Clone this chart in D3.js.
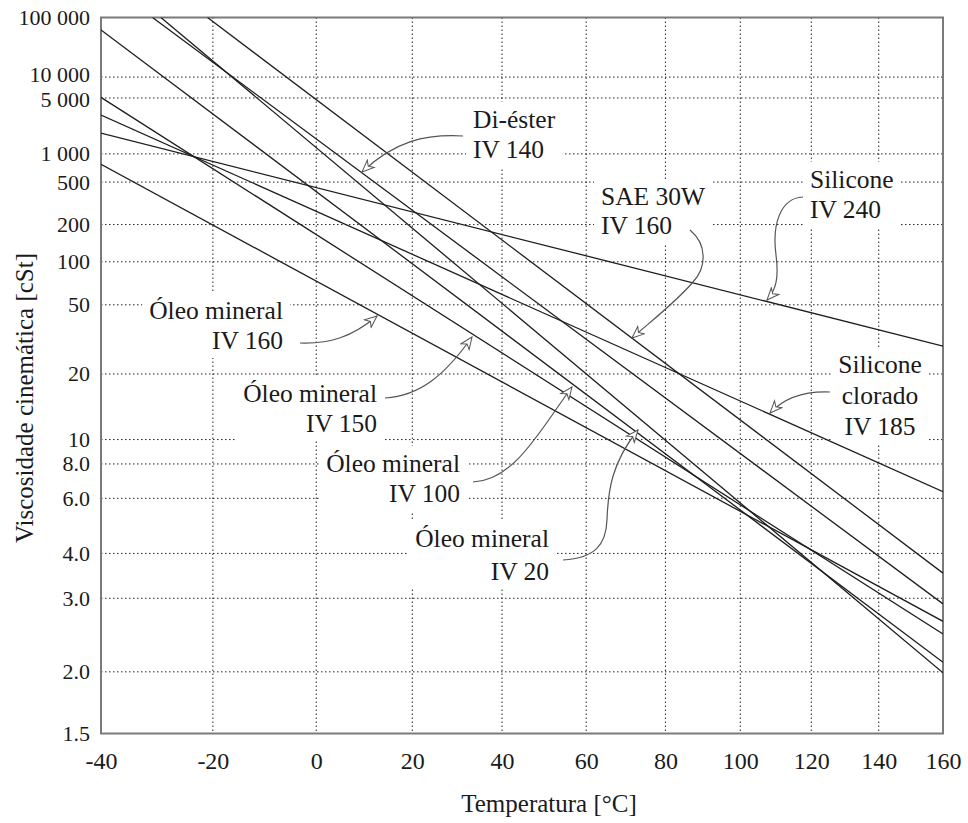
<!DOCTYPE html>
<html><head><meta charset="utf-8">
<script src="https://cdn.jsdelivr.net/npm/d3@7"></script>
<style>
body{margin:0;background:#fff}
svg text{font-family:"Liberation Serif","DejaVu Serif",serif;fill:#1a1a1a}
</style>
</head><body>
<svg id="chart" width="968" height="823"></svg>
<script>
// ---------- data ----------
const xTicks = [-40, -20, 0, 20, 40, 60, 80, 100, 120, 140, 160];
const xTickLabels = ["-40", "-20", "0", "20", "40", "60", "80", "100", "120", "140", "160"];
const yTicks = [100000, 10000, 5000, 1000, 500, 200, 100, 50, 20, 10, 8, 6, 4, 3, 2, 1.5];
const yTickLabels = ["100 000", "10 000", "5 000", "1 000", "500", "200", "100", "50", "20", "10", "8.0", "6.0", "4.0", "3.0", "2.0", "1.5"];

// each lubricant is a straight line between two (temperature °C, viscosity cSt) points
const lubricants   = ["Silicone IV 240", "Silicone clorado IV 185", "SAE 30W IV 160", "Di-éster IV 140",
                      "Óleo mineral IV 20", "Óleo mineral IV 100", "Óleo mineral IV 150", "Óleo mineral IV 160"];
const startTemp    = [-40,   -40,   -21,    -31,    -29.5,  -40,   -40,   -40];
const startVisc    = [1750,  2950,  100000, 100000, 100000, 59000, 5100,  768];
const endTemp      = [160,   160,   160,    160,    160,    160,   160,   160];
const endVisc      = [28.2,  6.33,  3.51,   2.90,   1.99,   2.10,  2.44,  2.62];

// annotation texts
const annoLines = [
  ["Di-éster", "IV 140"],
  ["SAE 30W", "IV 160"],
  ["Silicone", "IV 240"],
  ["Silicone", "clorado", "IV 185"],
  ["Óleo mineral", "IV 160"],
  ["Óleo mineral", "IV 150"],
  ["Óleo mineral", "IV 100"],
  ["Óleo mineral", "IV 20"]
];

// ---------- layout ----------
const M = {left: 101, right: 943, top: 17.5, bottom: 733.5};
const FONT = "Liberation Serif, DejaVu Serif, serif";
const svg = d3.select("#chart").attr("font-family", FONT);

// ASTM D341 style axes: log(T absolute) vs log(log(v + 0.7))
const K0 = 273.15;
const xs = d3.scaleLog().domain([xTicks[0] + K0, xTicks[xTicks.length - 1] + K0]).range([M.left, M.right]);
const x = t => xs(t + K0);
const LL = v => Math.log10(Math.log10(v + 0.7));
const ys = d3.scaleLinear().domain([LL(1.5), LL(100000)]).range([M.bottom, M.top]);
const y = v => ys(LL(v));

// grid
const grid = svg.append("g").attr("stroke", "#222").attr("stroke-width", 1).attr("stroke-dasharray", "1.5,2.5");
grid.selectAll("line.v").data(xTicks.slice(1, -1)).join("line")
  .attr("x1", d => x(d)).attr("x2", d => x(d)).attr("y1", M.top).attr("y2", M.bottom);
grid.selectAll("line.h").data(yTicks.slice(1, -1)).join("line")
  .attr("y1", d => y(d)).attr("y2", d => y(d)).attr("x1", M.left).attr("x2", M.right);

// x axis labels via d3 axis (no tick marks, no domain line)
const xAxis = d3.axisBottom(xs).tickValues(xTicks.map(t => t + K0))
  .tickFormat((d, i) => xTickLabels[i]).tickSize(0).tickPadding(18);
const gx = svg.append("g").attr("transform", `translate(0,${M.bottom})`).call(xAxis);
gx.attr("font-family", FONT).attr("font-size", 24);
gx.select(".domain").remove();
gx.selectAll("text").attr("fill", "#1a1a1a");

// y axis labels (the two crowded top labels are nudged apart slightly)
const yNudge = v => (v === 10000 ? -2.5 : v === 5000 ? 1.5 : 0);
svg.append("g").selectAll("text").data(yTicks).join("text")
  .attr("x", 90).attr("y", d => y(d) + yNudge(d)).attr("dy", "0.34em")
  .attr("text-anchor", "end").attr("font-size", 22)
  .text((d, i) => yTickLabels[i]);

// axis titles
svg.append("text").attr("x", 549).attr("y", 812).attr("text-anchor", "middle")
  .attr("font-size", 25).text("Temperatura [°C]");
svg.append("text").attr("transform", "translate(33,398) rotate(-90)").attr("text-anchor", "middle")
  .attr("font-size", 25).text("Viscosidade cinemática [cSt]");

// annotation layout
const annoLayout = [
  {x: 473, anchor: "start",  ys: [128, 158]},
  {x: 601, anchor: "start",  ys: [205, 234]},
  {x: 810, anchor: "start",  ys: [188, 218]},
  {x: 880, anchor: "middle", ys: [373, 404, 435]},
  {x: 283, anchor: "end",    ys: [319, 349]},
  {x: 377, anchor: "end",    ys: [402, 432]},
  {x: 460, anchor: "end",    ys: [472, 502]},
  {x: 549, anchor: "end",    ys: [547, 580]}
];
const arrowPaths = [
  "M463,136 C425,134 395,141 362,172",
  "M690,230 C708,245 706,268 693,282 C678,300 655,318 632,338",
  "M803,197 C780,198 772,225 776,255 C779,278 776,290 767,300",
  "M830,392 C805,391 785,397 770,413",
  "M300,343 C330,344 352,337 377,316",
  "M385,398 C420,396 445,375 472,337",
  "M473,482 C515,480 540,430 572,387",
  "M563,560 C595,558 606,545 607,520 C608,490 612,462 638,430"
];

// white boxes behind annotation labels (they interrupt the grid)
const annoG = svg.append("g");
const bgG = annoG.append("g");
const txtG = annoG.append("g");
annoLines.forEach((ls, i) => {
  const L = annoLayout[i];
  const t = txtG.append("text").attr("text-anchor", L.anchor).attr("font-size", 25.5);
  ls.forEach((s, j) => t.append("tspan").attr("x", L.x).attr("y", L.ys[j]).text(s));
  const b = t.node().getBBox();
  bgG.append("rect").attr("x", b.x - 7).attr("y", b.y - 3).attr("width", b.width + 14).attr("height", b.height + 6)
    .attr("fill", "#fff");
});

// frame
svg.append("rect").attr("x", M.left).attr("y", M.top).attr("width", M.right - M.left).attr("height", M.bottom - M.top)
  .attr("fill", "none").attr("stroke", "#7a7a7a").attr("stroke-width", 2);

// lubricant lines (clipped to plot)
svg.append("clipPath").attr("id", "clip").append("rect")
  .attr("x", M.left).attr("y", M.top).attr("width", M.right - M.left).attr("height", M.bottom - M.top);
const lineGen = d3.line().x(d => x(d[0])).y(d => y(d[1]));
svg.append("g").attr("clip-path", "url(#clip)")
  .selectAll("path").data(lubricants.map((n, i) => [[startTemp[i], startVisc[i]], [endTemp[i], endVisc[i]]]))
  .join("path").attr("d", lineGen).attr("fill", "none").attr("stroke", "#1e1e1e").attr("stroke-width", 1.3);

// arrows
const defs = svg.append("defs");
defs.append("marker").attr("id", "ah").attr("viewBox", "-13 -7 15 14").attr("refX", 0).attr("refY", 0)
  .attr("markerWidth", 15).attr("markerHeight", 14).attr("markerUnits", "userSpaceOnUse").attr("orient", "auto")
  .append("path").attr("d", "M0,0 L-12,-5 L-8.5,0 L-12,5 Z").attr("fill", "#fff").attr("stroke", "#555").attr("stroke-width", 1);
svg.append("g").selectAll("path").data(arrowPaths).join("path")
  .attr("d", d => d).attr("fill", "none").attr("stroke", "#555").attr("stroke-width", 1.2)
  .attr("marker-end", "url(#ah)");
txtG.raise();
</script>
</body></html>
